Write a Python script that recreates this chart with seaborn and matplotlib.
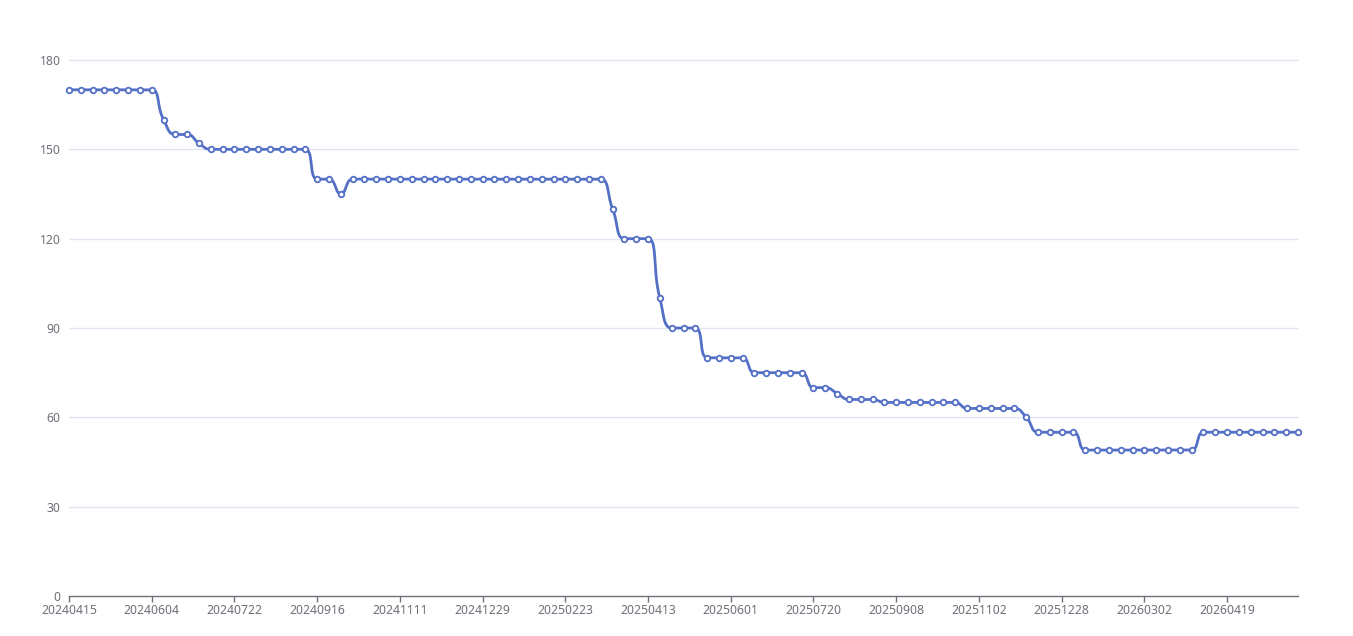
import math
import numpy as np
import pandas as pd
import matplotlib
matplotlib.use("Agg")
import matplotlib.pyplot as plt
import seaborn as sns

# weekly values (105 points)
values = (
    [170] * 8 + [160] + [155] * 2 + [152] + [150] * 9 + [140] * 2 + [135]
    + [140] * 22 + [130] + [120] * 3 + [100] + [90] * 3 + [80] * 4 + [75] * 5
    + [70] * 2 + [68] + [66] * 3 + [65] * 7 + [63] * 5 + [60] + [55] * 4
    + [49] * 10 + [55] * 9
)
# category labels shown on the x axis (every 7th category)
tick_labels = ['20240415', '20240604', '20240722', '20240916', '20241111',
               '20241229', '20250223', '20250413', '20250601', '20250720',
               '20250908', '20251102', '20251228', '20260302', '20260419']
label_step = 7
y_ticks = [0, 30, 60, 90, 120, 150, 180]

LINE = '#5470c6'
AXIS = '#6E7079'
GRID = '#E0E6F1'

W, H, DPI = 1353, 636, 100
left, right, top, bottom = 69, 1298, 60, 596
n = len(values)
px_per_x = (right - left) / (n - 1)
px_per_y = (bottom - top) / y_ticks[-1]


def smooth_curve(xs, ys, smooth=0.5, steps=24):
    # echarts style bezier smoothing, computed in pixel space
    px = [x * px_per_x for x in xs]
    py = [y * px_per_y for y in ys]
    out_x, out_y = [px[0]], [py[0]]
    cp0x, cp0y = px[0], py[0]
    for i in range(1, len(px)):
        x, y = px[i], py[i]
        prx, pry = px[i - 1], py[i - 1]
        if i == len(px) - 1:
            c1x, c1y = x, y
            ncx, ncy = x, y
        else:
            nx, ny = px[i + 1], py[i + 1]
            vx, vy = nx - prx, ny - pry
            l0 = math.hypot(x - prx, y - pry)
            l1 = math.hypot(nx - x, ny - y)
            r = l1 / (l0 + l1)
            ncx = x + vx * smooth * r
            ncy = y + vy * smooth * r
            ncx = max(min(ncx, max(nx, x)), min(nx, x))
            ncy = max(min(ncy, max(ny, y)), min(ny, y))
            vx, vy = ncx - x, ncy - y
            c1x = x - vx * l0 / l1
            c1y = y - vy * l0 / l1
            c1x = max(min(c1x, max(prx, x)), min(prx, x))
            c1y = max(min(c1y, max(pry, y)), min(pry, y))
            vx, vy = x - c1x, y - c1y
            ncx = x + vx * l1 / l0
            ncy = y + vy * l1 / l0
        t = np.linspace(0, 1, steps)[1:]
        a, b, c, d = (1 - t) ** 3, 3 * (1 - t) ** 2 * t, 3 * (1 - t) * t ** 2, t ** 3
        out_x.extend(a * prx + b * cp0x + c * c1x + d * x)
        out_y.extend(a * pry + b * cp0y + c * c1y + d * y)
        cp0x, cp0y = ncx, ncy
    return np.array(out_x) / px_per_x, np.array(out_y) / px_per_y


sns.set_theme(style='white')
plt.rcParams['font.family'] = ['Noto Sans', 'DejaVu Sans']

df = pd.DataFrame({'idx': np.arange(n), 'value': values})
cx, cy = smooth_curve(df['idx'].tolist(), df['value'].tolist())
curve = pd.DataFrame({'x': cx, 'y': cy})

fig = plt.figure(figsize=(W / DPI, H / DPI), dpi=DPI)
ax = fig.add_axes([left / W, 1 - bottom / H, (right - left) / W, (bottom - top) / H])

for v in y_ticks[1:]:
    ax.axhline(v, color=GRID, lw=1, zorder=0)

sns.lineplot(data=curve, x='x', y='y', sort=False, estimator=None,
             color=LINE, lw=2, ax=ax, zorder=2)
sns.scatterplot(data=df, x='idx', y='value', marker='o', s=16,
                facecolor='white', edgecolor=LINE, linewidth=1.3, ax=ax, zorder=3)
for art in ax.lines + ax.collections:
    art.set_clip_on(False)

ax.set_xlim(0, n - 1)
ax.set_ylim(0, y_ticks[-1])
ax.set_xticks(np.arange(0, n, label_step)[:len(tick_labels)])
ax.set_xticklabels(tick_labels)
ax.set_yticks(y_ticks)
ax.set_yticklabels([str(v) for v in y_ticks])
ax.set_xlabel('')
ax.set_ylabel('')

for s in ['top', 'right', 'left']:
    ax.spines[s].set_visible(False)
ax.spines['bottom'].set_color(AXIS)
ax.spines['bottom'].set_linewidth(1)
ax.tick_params(axis='x', colors=AXIS, labelcolor=AXIS, length=4, width=1,
               direction='out', pad=1.5, labelsize=8.8, bottom=True)
ax.tick_params(axis='y', labelcolor=AXIS, length=0, pad=6, labelsize=8.8)

fig.savefig('out.png', dpi=DPI)
